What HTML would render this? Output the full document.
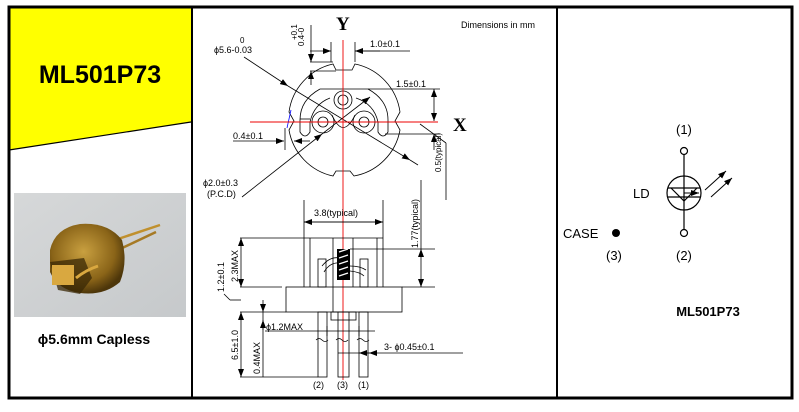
<!DOCTYPE html>
<html><head><meta charset="utf-8"><style>
body{margin:0;background:#fff;}
svg{display:block;font-family:"Liberation Sans",Arial,sans-serif;}
</style></head><body>
<svg width="799" height="412" viewBox="0 0 799 412" xmlns="http://www.w3.org/2000/svg">
<defs>
<marker id="a" markerWidth="8" markerHeight="6" refX="8" refY="3" orient="auto" markerUnits="userSpaceOnUse"><path d="M0,0 L8,3 L0,6z" fill="#000"/></marker>
<linearGradient id="ph" x1="0" y1="0" x2="1" y2="1"><stop offset="0" stop-color="#d6d8d9"/><stop offset="1" stop-color="#c6c9cb"/></linearGradient>
<radialGradient id="gold" cx="0.45" cy="0.4" r="0.6"><stop offset="0" stop-color="#c9a040"/><stop offset="0.7" stop-color="#8a6418"/><stop offset="1" stop-color="#4d360a"/></radialGradient>
</defs>
<polygon points="9,7 191,7 191,122 9,150" fill="#ffff00"/>
<line x1="9" y1="150" x2="191" y2="122" stroke="#000" stroke-width="1.2"/>
<text x="100" y="83" font-size="25" font-weight="bold" text-anchor="middle">ML501P73</text>
<rect x="14" y="193" width="172" height="124" fill="url(#ph)"/>
<line x1="115" y1="240" x2="160" y2="225" stroke="#c0902e" stroke-width="2.5"/>
<line x1="118" y1="250" x2="156" y2="232" stroke="#a67a25" stroke-width="2.5"/>
<path d="M50,250 Q55,228 80,224 Q108,222 122,240 Q128,262 120,282 Q104,296 80,293 Q58,290 50,272 Z" fill="url(#gold)"/>
<path d="M50,262 L58,290 L80,294 L92,278 L84,258 Z" fill="#3a2806" opacity="0.75"/>
<rect x="52" y="265" width="22" height="20" fill="#d9a840"/>
<path d="M76,278 Q86,270 98,266" stroke="#d9a840" stroke-width="3" fill="none"/>
<text x="94" y="344" font-size="14" font-weight="bold" text-anchor="middle">ϕ5.6mm Capless</text>
<rect x="9" y="7" width="783" height="391" fill="none" stroke="#000" stroke-width="3"/>
<line x1="192" y1="7" x2="192" y2="398" stroke="#000" stroke-width="2"/>
<line x1="557" y1="7" x2="557" y2="398" stroke="#000" stroke-width="2"/>

<g stroke="#000" stroke-width="0.8" fill="none">
<text x="461" y="28" font-size="9" stroke="none" fill="#000">Dimensions in mm</text>
<path d="M333,64 A57,57 0 0 0 289,112 L294,121 L289,130 A57,57 0 0 0 333,176 L336,171 L350,171 L354,176 A57,57 0 0 0 400,130 L395,121 L400,112 A57,57 0 0 0 355,64 L352,70 L336,70 Z"/>
<path d="M320,89 L368,89 Q388,100 388,120 L388,132 Q383,140 378,132 L378,122 Q374,104 356,98 M320,89 Q300,100 300,120 L300,132 Q305,140 310,132 L310,122 Q314,104 330,98"/>
<circle cx="343" cy="100" r="9"/><circle cx="343" cy="100" r="5"/>
<circle cx="323" cy="122" r="11"/><circle cx="323" cy="122" r="5"/>
<circle cx="364" cy="122" r="11"/><circle cx="364" cy="122" r="5"/>
<path d="M332,115 Q343,140 355,115"/>
<path d="M300,119 L310,119"/>
<line x1="331" y1="42" x2="331" y2="62"/><line x1="355" y1="42" x2="355" y2="62"/>
<line x1="310" y1="51" x2="331" y2="51" marker-end="url(#a)"/><line x1="380" y1="51" x2="355" y2="51" marker-end="url(#a)"/>
<line x1="355" y1="51" x2="410" y2="51"/>
<text x="370" y="47" font-size="9" stroke="none" fill="#000">1.0±0.1</text>
<line x1="310" y1="62" x2="333" y2="62"/><line x1="310" y1="71" x2="336" y2="71"/>
<line x1="311" y1="25" x2="311" y2="62" marker-end="url(#a)"/><line x1="311" y1="85" x2="311" y2="71" marker-end="url(#a)"/>
<text transform="translate(304,46) rotate(-90)" font-size="8" stroke="none" fill="#000">0.4-0</text>
<text transform="translate(297,40) rotate(-90)" font-size="8" stroke="none" fill="#000">+0.1</text>
<text x="240" y="43" font-size="8" stroke="none" fill="#000">0</text>
<text x="214" y="53" font-size="9" stroke="none" fill="#000">ϕ5.6-0.03</text>
<line x1="244" y1="57" x2="288" y2="86" marker-end="url(#a)"/>
<line x1="288" y1="86" x2="410" y2="160" marker-end="url(#a)"/>
<line x1="410" y1="160" x2="418" y2="165"/>
<line x1="368" y1="89" x2="440" y2="89"/>
<line x1="385" y1="134" x2="440" y2="134"/>
<line x1="434" y1="105" x2="434" y2="89" marker-end="url(#a)"/>
<line x1="434" y1="105" x2="434" y2="121" marker-end="url(#a)"/>
<line x1="434" y1="150" x2="434" y2="134" marker-end="url(#a)"/>
<text x="396" y="87" font-size="9" stroke="none" fill="#000">1.5±0.1</text>
<line x1="420" y1="124" x2="446" y2="143"/><line x1="446" y1="143" x2="446" y2="200"/>
<text transform="translate(441,172) rotate(-90)" font-size="8" stroke="none" fill="#000">0.5(typical)</text>
<text x="233" y="139" font-size="9" stroke="none" fill="#000">0.4±0.1</text>
<line x1="233" y1="141" x2="284" y2="141" marker-end="url(#a)"/>
<line x1="310" y1="141" x2="294" y2="141" marker-end="url(#a)"/>
<line x1="285" y1="128" x2="285" y2="150"/>
<line x1="291" y1="110" x2="287" y2="128" stroke="#00f"/>
<text x="203" y="186" font-size="9" stroke="none" fill="#000">ϕ2.0±0.3</text>
<text x="207" y="197" font-size="9" stroke="none" fill="#000">(P.C.D)</text>
<line x1="242" y1="197" x2="322" y2="134" marker-end="url(#a)"/>
<line x1="322" y1="134" x2="370" y2="97" marker-end="url(#a)"/>
</g>
<line x1="343" y1="40" x2="343" y2="380" stroke="#e00" stroke-width="0.9"/>
<line x1="250" y1="122" x2="438" y2="122" stroke="#e00" stroke-width="0.9"/>
<text x="336" y="30" font-family="Liberation Serif,serif" font-size="19" font-weight="bold">Y</text>
<text x="453" y="131" font-family="Liberation Serif,serif" font-size="19" font-weight="bold">X</text>

<g stroke="#000" stroke-width="0.8" fill="none">
<line x1="304" y1="200" x2="304" y2="287"/><line x1="383" y1="200" x2="383" y2="287"/>
<line x1="304" y1="222" x2="383" y2="222" marker-end="url(#a)"/><line x1="383" y1="222" x2="304" y2="222" marker-end="url(#a)"/>
<text x="314" y="216" font-size="9" stroke="none" fill="#000">3.8(typical)</text>
<line x1="240" y1="238" x2="383" y2="238"/>
<line x1="310" y1="238" x2="310" y2="287"/><line x1="377" y1="238" x2="377" y2="287"/>
<line x1="333" y1="238" x2="333" y2="312"/><line x1="353" y1="238" x2="353" y2="287"/>
<rect x="318" y="259" width="8" height="28"/><rect x="360" y="259" width="8" height="28"/>
<path d="M322,266 Q330,256 340,258 M324,272 Q330,262 340,263 M350,266 Q360,266 366,270 M350,271 Q360,272 364,276"/>
<rect x="286" y="287" width="116" height="25"/>
<line x1="240" y1="312" x2="286" y2="312"/>
<rect x="331" y="312" width="25" height="8"/>
<rect x="318" y="312" width="9" height="65"/><rect x="338" y="312" width="11" height="65"/><rect x="359" y="312" width="9" height="65"/>
<line x1="240" y1="377" x2="318" y2="377"/>
<line x1="240" y1="287" x2="282" y2="287"/>
<line x1="402" y1="287" x2="435" y2="287"/>
<line x1="350" y1="249" x2="435" y2="249"/>
<line x1="421" y1="268" x2="421" y2="249" marker-end="url(#a)"/><line x1="421" y1="268" x2="421" y2="287" marker-end="url(#a)"/>
<line x1="421" y1="249" x2="421" y2="180"/>
<text transform="translate(418,248) rotate(-90)" font-size="9" stroke="none" fill="#000">1.77(typical)</text>
<line x1="241" y1="262" x2="241" y2="238" marker-end="url(#a)"/><line x1="241" y1="262" x2="241" y2="287" marker-end="url(#a)"/>
<text transform="translate(238,282) rotate(-90)" font-size="9" stroke="none" fill="#000">2.3MAX</text>
<text transform="translate(224,292) rotate(-90)" font-size="9" stroke="none" fill="#000">1.2±0.1</text>
<line x1="224" y1="294" x2="230" y2="300"/><line x1="230" y1="300" x2="241" y2="300"/>
<line x1="263" y1="300" x2="263" y2="312" marker-end="url(#a)"/>
<line x1="263" y1="312" x2="263" y2="377"/>
<line x1="263" y1="330" x2="263" y2="320" marker-end="url(#a)"/>
<text transform="translate(260,374) rotate(-90)" font-size="9" stroke="none" fill="#000">0.4MAX</text>
<line x1="241" y1="340" x2="241" y2="312" marker-end="url(#a)"/><line x1="241" y1="340" x2="241" y2="377" marker-end="url(#a)"/>
<text transform="translate(238,360) rotate(-90)" font-size="9" stroke="none" fill="#000">6.5±1.0</text>
<text x="266" y="330" font-size="9" stroke="none" fill="#000">ϕ1.2MAX</text>
<line x1="265" y1="331" x2="375" y2="331"/>
<line x1="327" y1="326" x2="327" y2="336"/><line x1="359" y1="326" x2="359" y2="336"/>
<line x1="338" y1="353" x2="375" y2="353"/>
<line x1="370" y1="353" x2="359" y2="353" marker-end="url(#a)"/>
<line x1="400" y1="353" x2="369" y2="353" marker-end="url(#a)"/>
<line x1="400" y1="353" x2="463" y2="353"/>
<text x="384" y="350" font-size="9" stroke="none" fill="#000">3- ϕ0.45±0.1</text>
<path d="M316,340 q3,-3 6,0 q3,3 6,0 M336,340 q3,-3 6,0 q3,3 6,0 M357,340 q3,-3 6,0 q3,3 6,0"/>
</g>
<rect x="337" y="249" width="13" height="31" fill="#000"/>
<path d="M339,252 l9,-3 M339,258 l9,-3 M339,264 l9,-3 M339,270 l9,-3 M339,276 l9,-3" stroke="#fff" stroke-width="1.2"/>
<text x="313" y="388" font-size="9">(2)</text>
<text x="337" y="388" font-size="9">(3)</text>
<text x="358" y="388" font-size="9">(1)</text>

<g stroke="#000" stroke-width="1.2" fill="none">
<circle cx="684" cy="151" r="3.5" fill="#fff"/>
<circle cx="684" cy="233" r="3.5" fill="#fff"/>
<line x1="684" y1="154.5" x2="684" y2="229.5"/>
<circle cx="684" cy="193" r="17"/>
<line x1="668" y1="188" x2="700" y2="188"/>
<line x1="668" y1="197" x2="700" y2="197"/>
<polyline points="671,188 684,201 697,188"/>
<line x1="684" y1="193" x2="699" y2="193" stroke-width="1" marker-end="url(#a)"/>
<line x1="705" y1="190" x2="726" y2="171" stroke-width="1" marker-end="url(#a)"/>
<line x1="711" y1="197" x2="732" y2="178" stroke-width="1" marker-end="url(#a)"/>
</g>
<circle cx="616" cy="233" r="4" fill="#000"/>
<text x="676" y="134" font-size="13">(1)</text>
<text x="676" y="260" font-size="13">(2)</text>
<text x="633" y="198" font-size="13">LD</text>
<text x="563" y="238" font-size="13">CASE</text>
<text x="606" y="260" font-size="13">(3)</text>
<text x="708" y="316" font-size="13" font-weight="bold" text-anchor="middle">ML501P73</text>
</svg>
</body></html>
